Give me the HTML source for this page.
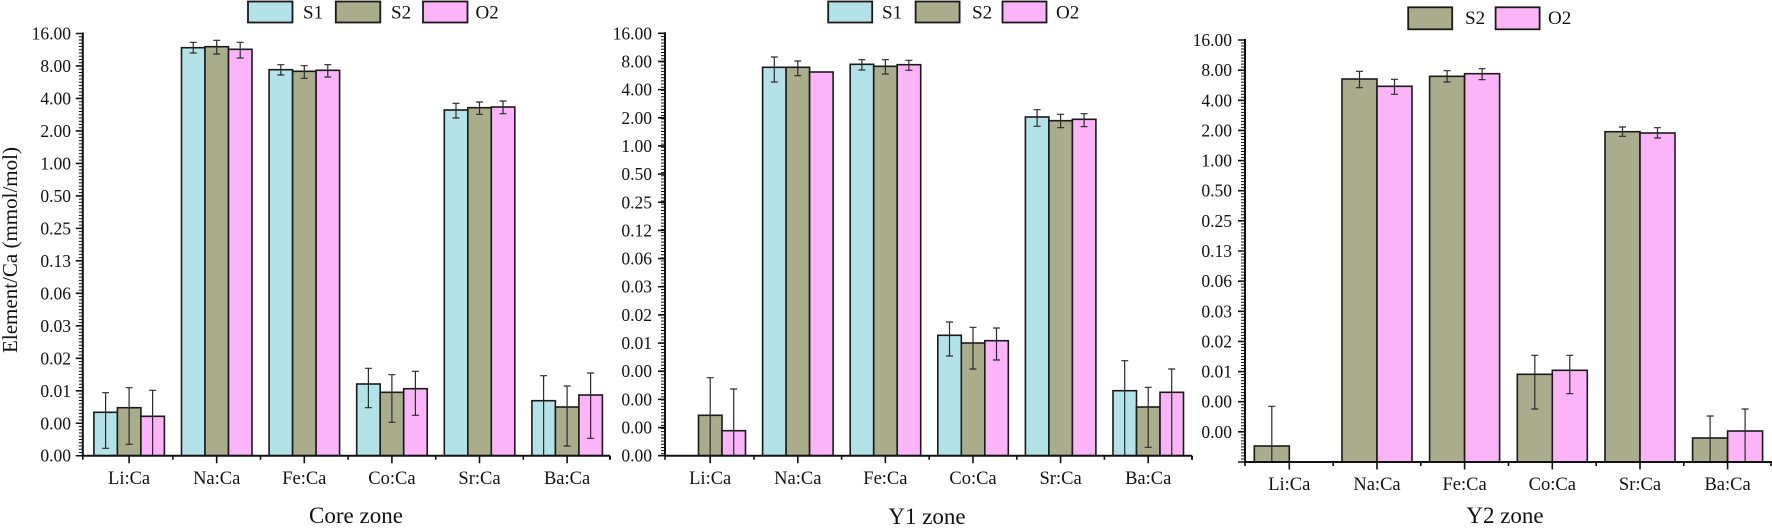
<!DOCTYPE html>
<html><head><meta charset="utf-8"><style>
html,body{margin:0;padding:0;background:#fff;}
svg{display:block;}
text{font-family:"Liberation Serif","Times New Roman",serif;fill:#111;}
</style></head><body>
<svg width="1772" height="528" viewBox="0 0 1772 528" xmlns="http://www.w3.org/2000/svg">
<rect width="1772" height="528" fill="#fff"/>

<!-- ================= PANEL 1 ================= -->
<g stroke="#1a1a1a" stroke-width="1.6">
<!-- Li -->
<rect x="93.9" y="412.3" width="23.5" height="43.4" fill="#b3e3e8"/>
<rect x="117.4" y="407.7" width="23.5" height="48" fill="#a9ad8b"/>
<rect x="140.9" y="416.3" width="23.5" height="39.4" fill="#fbb4f7"/>
<!-- Na -->
<rect x="181.5" y="47.7" width="23.5" height="408" fill="#b3e3e8"/>
<rect x="205" y="46.7" width="23.5" height="409" fill="#a9ad8b"/>
<rect x="228.5" y="49.3" width="23.5" height="406.4" fill="#fbb4f7"/>
<!-- Fe -->
<rect x="269.1" y="69.7" width="23.5" height="386" fill="#b3e3e8"/>
<rect x="292.6" y="71.3" width="23.5" height="384.4" fill="#a9ad8b"/>
<rect x="316.1" y="70.3" width="23.5" height="385.4" fill="#fbb4f7"/>
<!-- Co -->
<rect x="356.7" y="384" width="23.5" height="71.7" fill="#b3e3e8"/>
<rect x="380.2" y="392.3" width="23.5" height="63.4" fill="#a9ad8b"/>
<rect x="403.7" y="388.7" width="23.5" height="67" fill="#fbb4f7"/>
<!-- Sr -->
<rect x="444.3" y="110" width="23.5" height="345.7" fill="#b3e3e8"/>
<rect x="467.8" y="107.7" width="23.5" height="348" fill="#a9ad8b"/>
<rect x="491.3" y="107" width="23.5" height="348.7" fill="#fbb4f7"/>
<!-- Ba -->
<rect x="531.9" y="400.7" width="23.5" height="55" fill="#b3e3e8"/>
<rect x="555.4" y="407" width="23.5" height="48.7" fill="#a9ad8b"/>
<rect x="578.9" y="395" width="23.5" height="60.7" fill="#fbb4f7"/>
</g>
<path fill="none" stroke="#2b2b2b" stroke-width="1.2" d="
M105.6 392.7V448.3M102.1 392.7h7M102.1 448.3h7
M129.1 387.7V444.3M125.6 387.7h7M125.6 444.3h7
M152.6 390.3V455.7M149.1 390.3h7
M193.2 42.3V53M189.7 42.3h7M189.7 53h7
M216.7 40.3V54M213.2 40.3h7M213.2 54h7
M240.2 42.3V58M236.7 42.3h7M236.7 58h7
M280.8 64.7V75M277.3 64.7h7M277.3 75h7
M304.3 65.7V78.3M300.8 65.7h7M300.8 78.3h7
M327.8 64.7V77M324.3 64.7h7M324.3 77h7
M368.4 368.3V407.7M364.9 368.3h7M364.9 407.7h7
M391.9 374.7V422.3M388.4 374.7h7M388.4 422.3h7
M415.4 371.3V415.3M411.9 371.3h7M411.9 415.3h7
M456 103.3V118M452.5 103.3h7M452.5 118h7
M479.5 102V114.3M476 102h7M476 114.3h7
M503 101V113.7M499.5 101h7M499.5 113.7h7
M543.6 375.7V455.7M540.1 375.7h7
M567.1 386V446M563.6 386h7M563.6 446h7
M590.6 373V438.3M587.1 373h7M587.1 438.3h7"/>
<!-- axes -->
<line x1="80.8" y1="33" x2="80.8" y2="456" stroke="#111" stroke-width="4" stroke-dasharray="1 2.248"/>
<path fill="none" stroke="#111" stroke-width="2" d="M82.8 32.5V456.7M81.8 455.7H610M610 455.7v4"/>
<path fill="none" stroke="#111" stroke-width="1.6" d="
M82.8 33.5h-7M82.8 65.98h-7M82.8 98.46h-7M82.8 130.94h-7M82.8 163.42h-7M82.8 195.9h-7M82.8 228.38h-7
M82.8 260.86h-7M82.8 293.34h-7M82.8 325.82h-7M82.8 358.3h-7M82.8 390.78h-7M82.8 423.26h-7M82.8 455.74h-7
M129.1 455.7v7.5M216.7 455.7v7.5M304.3 455.7v7.5M391.9 455.7v7.5M479.5 455.7v7.5M567.1 455.7v7.5
M82.8 455.7v4M172.9 455.7v4M260.5 455.7v4M348.1 455.7v4M435.7 455.7v4M523.3 455.7v4"/>
<g font-size="17.5" text-anchor="end">
<text x="71" y="39.5">16.00</text><text x="71" y="72">8.00</text><text x="71" y="104.5">4.00</text>
<text x="71" y="137">2.00</text><text x="71" y="169.4">1.00</text><text x="71" y="201.9">0.50</text>
<text x="71" y="234.4">0.25</text><text x="71" y="266.9">0.13</text><text x="71" y="299.3">0.06</text>
<text x="71" y="331.8">0.03</text><text x="71" y="364.3">0.02</text><text x="71" y="396.8">0.01</text>
<text x="71" y="429.3">0.00</text><text x="71" y="461.7">0.00</text>
</g>
<g font-size="18.5" text-anchor="middle">
<text x="129.1" y="484">Li:Ca</text><text x="216.7" y="484">Na:Ca</text><text x="304.3" y="484">Fe:Ca</text>
<text x="391.9" y="484">Co:Ca</text><text x="479.5" y="484">Sr:Ca</text><text x="567.1" y="484">Ba:Ca</text>
</g>
<text x="356" y="523" font-size="23" text-anchor="middle">Core zone</text>
<text transform="translate(17,250) rotate(-90)" font-size="21" text-anchor="middle">Element/Ca (mmol/mol)</text>
<!-- legend 1 -->
<g stroke="#1a1a1a" stroke-width="1.8">
<rect x="248" y="1.5" width="44.5" height="21" fill="#b3e3e8"/>
<rect x="335.8" y="1.5" width="44.5" height="21" fill="#a9ad8b"/>
<rect x="423" y="1.5" width="44.5" height="21" fill="#fbb4f7"/>
</g>
<g font-size="19"><text x="303" y="18.5">S1</text><text x="391" y="18.5">S2</text><text x="475.5" y="18.5">O2</text></g>

<!-- ================= PANEL 2 ================= -->
<g stroke="#1a1a1a" stroke-width="1.6">
<rect x="698.5" y="415.3" width="23.5" height="40.4" fill="#a9ad8b"/>
<rect x="722" y="430.7" width="23.5" height="25" fill="#fbb4f7"/>
<rect x="762.6" y="67.3" width="23.5" height="388.4" fill="#b3e3e8"/>
<rect x="786.1" y="67.3" width="23.5" height="388.4" fill="#a9ad8b"/>
<rect x="809.6" y="72" width="23.5" height="383.7" fill="#fbb4f7"/>
<rect x="850.2" y="64.3" width="23.5" height="391.4" fill="#b3e3e8"/>
<rect x="873.7" y="66.3" width="23.5" height="389.4" fill="#a9ad8b"/>
<rect x="897.2" y="64.7" width="23.5" height="391" fill="#fbb4f7"/>
<rect x="937.8" y="335.3" width="23.5" height="120.4" fill="#b3e3e8"/>
<rect x="961.3" y="343" width="23.5" height="112.7" fill="#a9ad8b"/>
<rect x="984.8" y="340.7" width="23.5" height="115" fill="#fbb4f7"/>
<rect x="1025.4" y="117" width="23.5" height="338.7" fill="#b3e3e8"/>
<rect x="1048.9" y="120.7" width="23.5" height="335" fill="#a9ad8b"/>
<rect x="1072.4" y="119.3" width="23.5" height="336.4" fill="#fbb4f7"/>
<rect x="1113" y="390.7" width="23.5" height="65" fill="#b3e3e8"/>
<rect x="1136.5" y="407" width="23.5" height="48.7" fill="#a9ad8b"/>
<rect x="1160" y="392.3" width="23.5" height="63.4" fill="#fbb4f7"/>
</g>
<path fill="none" stroke="#2b2b2b" stroke-width="1.2" d="
M710.2 377.7V455.7M706.7 377.7h7
M733.7 389V455.7M730.2 389h7
M774.3 57V82M770.8 57h7M770.8 82h7
M797.8 61V75.7M794.3 61h7M794.3 75.7h7
M861.9 59.7V70M858.4 59.7h7M858.4 70h7
M885.4 59.7V74M881.9 59.7h7M881.9 74h7
M908.9 60.3V70.3M905.4 60.3h7M905.4 70.3h7
M949.5 322V356M946 322h7M946 356h7
M973 327.3V369M969.5 327.3h7M969.5 369h7
M996.5 328V360M993 328h7M993 360h7
M1037.1 109.7V126.3M1033.6 109.7h7M1033.6 126.3h7
M1060.6 114.3V127.7M1057.1 114.3h7M1057.1 127.7h7
M1084.1 113.7V126.7M1080.6 113.7h7M1080.6 126.7h7
M1124.7 360.7V455.7M1121.2 360.7h7
M1148.2 387.3V447.3M1144.7 387.3h7M1144.7 447.3h7
M1171.7 369V455.7M1168.2 369h7"/>
<line x1="663" y1="33" x2="663" y2="456" stroke="#111" stroke-width="4" stroke-dasharray="1 2.16"/>
<path fill="none" stroke="#111" stroke-width="2" d="M665 32.3V456.7M664 455.7H1192M1192 455.7v4"/>
<path fill="none" stroke="#111" stroke-width="1.6" d="
M665 33.3h-7M665 61.46h-7M665 89.62h-7M665 117.78h-7M665 145.94h-7M665 174.1h-7M665 202.26h-7M665 230.42h-7
M665 258.58h-7M665 286.74h-7M665 314.9h-7M665 343.06h-7M665 371.22h-7M665 399.38h-7M665 427.54h-7M665 455.7h-7
M710.2 455.7v7.5M797.8 455.7v7.5M885.4 455.7v7.5M973 455.7v7.5M1060.6 455.7v7.5M1148.2 455.7v7.5
M665 455.7v4M754 455.7v4M841.6 455.7v4M929.2 455.7v4M1016.8 455.7v4M1104.4 455.7v4"/>
<g font-size="17.5" text-anchor="end">
<text x="652" y="39.3">16.00</text><text x="652" y="67.5">8.00</text><text x="652" y="95.6">4.00</text>
<text x="652" y="123.8">2.00</text><text x="652" y="151.9">1.00</text><text x="652" y="180.1">0.50</text>
<text x="652" y="208.3">0.25</text><text x="652" y="236.4">0.12</text><text x="652" y="264.6">0.06</text>
<text x="652" y="292.7">0.03</text><text x="652" y="320.9">0.02</text><text x="652" y="349.1">0.01</text>
<text x="652" y="377.2">0.00</text><text x="652" y="405.4">0.00</text><text x="652" y="433.5">0.00</text>
<text x="652" y="461.7">0.00</text>
</g>
<g font-size="18.5" text-anchor="middle">
<text x="710.2" y="484">Li:Ca</text><text x="797.8" y="484">Na:Ca</text><text x="885.4" y="484">Fe:Ca</text>
<text x="973" y="484">Co:Ca</text><text x="1060.6" y="484">Sr:Ca</text><text x="1148.2" y="484">Ba:Ca</text>
</g>
<text x="927" y="524" font-size="23" text-anchor="middle">Y1 zone</text>
<g stroke="#1a1a1a" stroke-width="1.8">
<rect x="828.2" y="1.5" width="44" height="21" fill="#b3e3e8"/>
<rect x="915.6" y="1.5" width="44" height="21" fill="#a9ad8b"/>
<rect x="1002.5" y="1.5" width="44" height="21" fill="#fbb4f7"/>
</g>
<g font-size="19"><text x="882" y="18.5">S1</text><text x="972" y="18.5">S2</text><text x="1056" y="18.5">O2</text></g>

<!-- ================= PANEL 3 ================= -->
<g stroke="#1a1a1a" stroke-width="1.6">
<rect x="1254.3" y="446" width="35" height="16" fill="#a9ad8b"/>
<rect x="1342" y="79" width="35" height="383" fill="#a9ad8b"/>
<rect x="1377" y="86.3" width="35" height="375.7" fill="#fbb4f7"/>
<rect x="1429.6" y="76.3" width="35" height="385.7" fill="#a9ad8b"/>
<rect x="1464.6" y="73.7" width="35" height="388.3" fill="#fbb4f7"/>
<rect x="1517.3" y="374.3" width="35" height="87.7" fill="#a9ad8b"/>
<rect x="1552.3" y="370.3" width="35" height="91.7" fill="#fbb4f7"/>
<rect x="1605" y="131.7" width="35" height="330.3" fill="#a9ad8b"/>
<rect x="1640" y="133" width="35" height="329" fill="#fbb4f7"/>
<rect x="1692.6" y="438" width="35" height="24" fill="#a9ad8b"/>
<rect x="1727.6" y="431" width="35" height="31" fill="#fbb4f7"/>
</g>
<path fill="none" stroke="#2b2b2b" stroke-width="1.2" d="
M1271.8 406.3V462M1268.3 406.3h7
M1359.5 71.3V87.7M1356 71.3h7M1356 87.7h7
M1394.5 79.3V94.3M1391 79.3h7M1391 94.3h7
M1447.1 70.7V82M1443.6 70.7h7M1443.6 82h7
M1482.1 68.7V79.7M1478.6 68.7h7M1478.6 79.7h7
M1534.8 355.3V409M1531.3 355.3h7M1531.3 409h7
M1569.8 355.3V393.7M1566.3 355.3h7M1566.3 393.7h7
M1622.5 127V136.3M1619 127h7M1619 136.3h7
M1657.5 127.7V138M1654 127.7h7M1654 138h7
M1710.1 416V462M1706.6 416h7
M1745.1 409V462M1741.6 409h7"/>
<line x1="1243" y1="39.5" x2="1243" y2="462.5" stroke="#111" stroke-width="4" stroke-dasharray="1 2.014"/>
<path fill="none" stroke="#111" stroke-width="2" d="M1245 39V463M1244 462H1772"/>
<path fill="none" stroke="#111" stroke-width="1.6" d="
M1245 40h-7M1245 70.14h-7M1245 100.29h-7M1245 130.43h-7M1245 160.57h-7M1245 190.71h-7M1245 220.86h-7M1245 251h-7
M1245 281.14h-7M1245 311.29h-7M1245 341.43h-7M1245 371.57h-7M1245 401.71h-7M1245 431.86h-7M1245 462h-7
M1289.3 462v7.5M1377 462v7.5M1464.6 462v7.5M1552.3 462v7.5M1640 462v7.5M1727.6 462v7.5
M1245 462v4M1333.2 462v4M1420.8 462v4M1508.5 462v4M1596.2 462v4M1683.8 462v4M1771 462v4"/>
<g font-size="17.5" text-anchor="end">
<text x="1232" y="46">16.00</text><text x="1232" y="76.1">8.00</text><text x="1232" y="106.3">4.00</text>
<text x="1232" y="136.4">2.00</text><text x="1232" y="166.6">1.00</text><text x="1232" y="196.7">0.50</text>
<text x="1232" y="226.9">0.25</text><text x="1232" y="257">0.13</text><text x="1232" y="287.1">0.06</text>
<text x="1232" y="317.3">0.03</text><text x="1232" y="347.4">0.02</text><text x="1232" y="377.6">0.01</text>
<text x="1232" y="407.7">0.00</text><text x="1232" y="437.9">0.00</text>
</g>
<g font-size="18.5" text-anchor="middle">
<text x="1289.3" y="490">Li:Ca</text><text x="1377" y="490">Na:Ca</text><text x="1464.6" y="490">Fe:Ca</text>
<text x="1552.3" y="490">Co:Ca</text><text x="1640" y="490">Sr:Ca</text><text x="1727.6" y="490">Ba:Ca</text>
</g>
<text x="1505" y="523" font-size="23" text-anchor="middle">Y2 zone</text>
<g stroke="#1a1a1a" stroke-width="1.8">
<rect x="1408.2" y="7.3" width="44" height="22" fill="#a9ad8b"/>
<rect x="1495.6" y="7.3" width="44" height="22" fill="#fbb4f7"/>
</g>
<g font-size="19"><text x="1465" y="24">S2</text><text x="1548" y="24">O2</text></g>
</svg>
</body></html>
